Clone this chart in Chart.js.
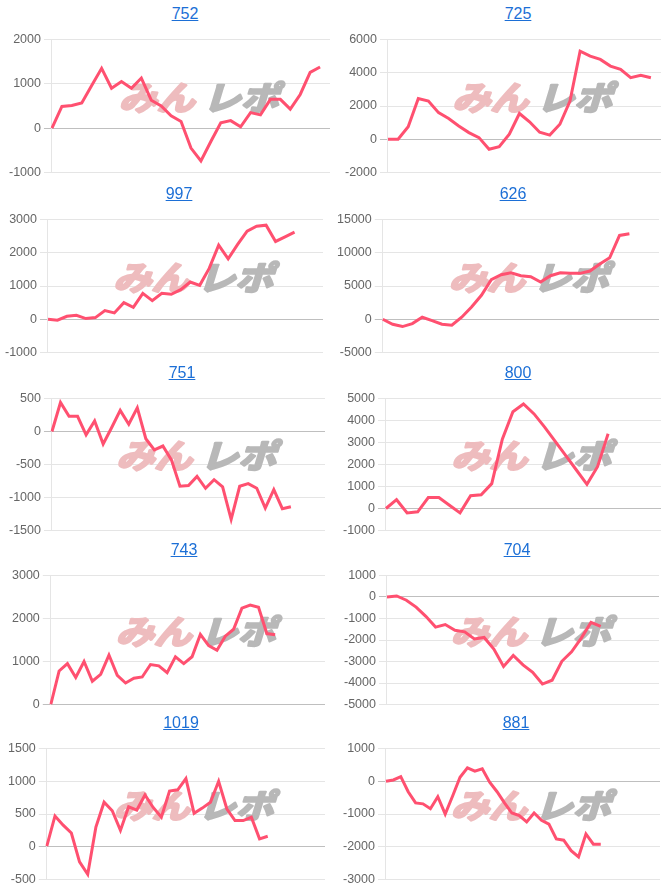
<!DOCTYPE html>
<html lang="ja">
<head>
<meta charset="utf-8">
<title>スランプグラフ</title>
<script src="https://cdn.jsdelivr.net/npm/chart.js@4.4.1/dist/chart.umd.min.js"></script>
<style>
  html, body { margin: 0; padding: 0; background: #fff; }
  body { width: 666px; height: 888px; position: relative; overflow: hidden; font-family: Arial, "Liberation Sans", sans-serif; }
  .panel { position: absolute; width: 333px; height: 182px; }
  .panel .ttl { position: absolute; top: 0; width: 120px; height: 28px; line-height: 28px; font-size: 16px; text-align: center; }
  .panel .ttl a { color: #1c6fd6; text-decoration: underline; }
  .panel canvas { position: absolute; top: 29px; }
</style>
</head>
<body>
<script>
// machine numbers (panel titles), left-to-right, top-to-bottom
const titles = ['752', '725', '997', '626', '751', '800', '743', '704', '1019', '881'];

// number of x slots on each chart (x labels are hidden)
const xCounts = [29, 28, 30, 29, 33, 27, 34, 29, 35, 38];

// y axis tick labels per chart
const ticks752 = [-1000, 0, 1000, 2000];
const ticks725 = [-2000, 0, 2000, 4000, 6000];
const ticks997 = [-1000, 0, 1000, 2000, 3000];
const ticks626 = [-5000, 0, 5000, 10000, 15000];
const ticks751 = [-1500, -1000, -500, 0, 500];
const ticks800 = [-1000, 0, 1000, 2000, 3000, 4000, 5000];
const ticks743 = [0, 1000, 2000, 3000];
const ticks704 = [-5000, -4000, -3000, -2000, -1000, 0, 1000];
const ticks1019 = [-500, 0, 500, 1000, 1500];
const ticks881 = [-3000, -2000, -1000, 0, 1000];

// slump values
const slump752 = [0, 490, 510, 570, 960, 1350, 900, 1050, 900, 1130, 630, 500, 280, 150, -450, -740, -300, 120, 170, 30, 350, 300, 650, 650, 430, 760, 1260, 1380];
const slump725 = [0, 0, 750, 2450, 2300, 1600, 1250, 800, 400, 100, -600, -450, 300, 1550, 1050, 420, 250, 900, 2300, 5300, 5000, 4800, 4400, 4200, 3700, 3850, 3700];
const slump997 = [0, -30, 90, 120, 20, 50, 260, 190, 500, 360, 780, 560, 780, 750, 890, 1120, 1020, 1530, 2230, 1820, 2250, 2650, 2800, 2830, 2340, 2480, 2620];
const slump626 = [0, -750, -1100, -650, 300, -200, -750, -900, 300, 1850, 3600, 5950, 6700, 7000, 6550, 6400, 5600, 6550, 7000, 6900, 6900, 7250, 8300, 9250, 12600, 12850];
const slump751 = [0, 440, 230, 230, -50, 160, -190, 60, 320, 110, 360, -110, -280, -220, -430, -830, -820, -680, -860, -730, -840, -1330, -830, -790, -860, -1160, -880, -1170, -1140];
const slump800 = [0, 400, -200, -150, 500, 500, 150, -200, 580, 620, 1130, 3150, 4400, 4750, 4300, 3700, 3050, 2400, 1750, 1100, 1900, 3400];
const slump743 = [0, 780, 950, 630, 1000, 540, 700, 1150, 680, 500, 610, 640, 930, 900, 740, 1110, 950, 1110, 1630, 1370, 1260, 1590, 1750, 2240, 2310, 2260, 1650, 1620];
const slump704 = [0, 50, -150, -470, -900, -1400, -1280, -1550, -1620, -1950, -1880, -2420, -3230, -2720, -3160, -3500, -4050, -3870, -2990, -2550, -1910, -1180, -1370];
const slump1019 = [10, 470, 330, 210, -230, -420, 300, 680, 550, 250, 610, 560, 790, 600, 450, 850, 870, 1040, 510, 590, 680, 1000, 580, 400, 400, 450, 120, 160];
const slump881 = [0, 40, 140, -320, -660, -690, -840, -470, -1000, -450, 120, 410, 310, 380, -30, -320, -660, -970, -1050, -1240, -970, -1190, -1310, -1760, -1800, -2120, -2310, -1610, -1920, -1920];

const allTicks = [ticks752, ticks725, ticks997, ticks626, ticks751, ticks800, ticks743, ticks704, ticks1019, ticks881];
const allSlumps = [slump752, slump725, slump997, slump626, slump751, slump800, slump743, slump704, slump1019, slump881];

// --- layout (pixels) ---
const rowTops = [0, 180, 359, 536, 709];
const rowCanvasHeights = [154, 154, 153, 150, 152];
const canvasLefts = [6, 9, 2, 1, 6, 7, 9, 8, 5, 7];
const plotRights = [330, 328, 323, 326, 325, 328, 325, 326, 325, 327];
const titleCenters = [185, 185, 179, 180, 182, 185, 184, 184, 181, 183];

const LINE_COLOR = 'rgb(255, 80, 112)';

// faint site logo behind the line
const watermark = {
    id: 'watermark',
    beforeDatasetsDraw(chart) {
        const { ctx, chartArea: a } = chart;
        const cx = (a.left + a.right) / 2 + 11;
        const cy = (a.top + a.bottom) / 2 - 9;
        ctx.save();
        ctx.translate(cx, cy);
        ctx.transform(1.15, 0, -0.3, 1, 0, 0);
        ctx.font = 'bold 33px "Noto Sans CJK JP"';
        ctx.textBaseline = 'middle';
        ctx.lineJoin = 'round';
        ctx.lineWidth = 2.5;
        ctx.textAlign = 'right';
        ctx.fillStyle = ctx.strokeStyle = '#eebcbe';
        ctx.strokeText('みん', -3, 0);
        ctx.fillText('みん', -3, 0);
        ctx.textAlign = 'left';
        ctx.fillStyle = ctx.strokeStyle = '#b8b8b8';
        ctx.strokeText('レポ', 4, 0);
        ctx.fillText('レポ', 4, 0);
        ctx.restore();
    }
};

allSlumps.forEach((slump, i) => {
    const row = Math.floor(i / 2);
    const col = i % 2;

    const panel = document.createElement('div');
    panel.className = 'panel';
    panel.style.left = (col * 333) + 'px';
    panel.style.top = rowTops[row] + 'px';

    const ttl = document.createElement('div');
    ttl.className = 'ttl';
    ttl.style.left = (titleCenters[i] - 60) + 'px';
    const link = document.createElement('a');
    link.href = '#';
    link.textContent = titles[i];
    ttl.appendChild(link);
    panel.appendChild(ttl);

    const canvas = document.createElement('canvas');
    canvas.width = plotRights[i] - canvasLefts[i];
    canvas.height = rowCanvasHeights[row];
    canvas.style.left = canvasLefts[i] + 'px';
    panel.appendChild(canvas);
    document.body.appendChild(panel);

    const ticks = allTicks[i];
    const labels = Array.from({ length: xCounts[i] }, (_, k) => String(k + 1));

    new Chart(canvas, {
        type: 'line',
        data: {
            labels: labels,
            datasets: [{
                data: slump,
                borderColor: LINE_COLOR,
                backgroundColor: LINE_COLOR,
                borderWidth: 3,
                pointRadius: 0,
                tension: 0,
                fill: false
            }]
        },
        options: {
            responsive: false,
            animation: false,
            events: [],
            layout: { padding: 0 },
            plugins: {
                legend: { display: false },
                tooltip: { enabled: false },
                title: { display: false }
            },
            scales: {
                x: { display: false },
                y: {
                    min: ticks[0],
                    max: ticks[ticks.length - 1],
                    ticks: {
                        stepSize: ticks[1] - ticks[0],
                        color: '#666',
                        font: { size: 12.5, family: 'Arial, "Liberation Sans", sans-serif' },
                        padding: 3,
                        callback: v => String(v)
                    },
                    grid: {
                        color: c => (c.tick && c.tick.value === 0) ? 'rgba(0,0,0,0.25)' : 'rgba(0,0,0,0.1)',
                        drawTicks: true,
                        tickLength: 8
                    },
                    border: { color: 'rgba(0,0,0,0.1)' }
                }
            }
        },
        plugins: [watermark]
    });
});
</script>
</body>
</html>
